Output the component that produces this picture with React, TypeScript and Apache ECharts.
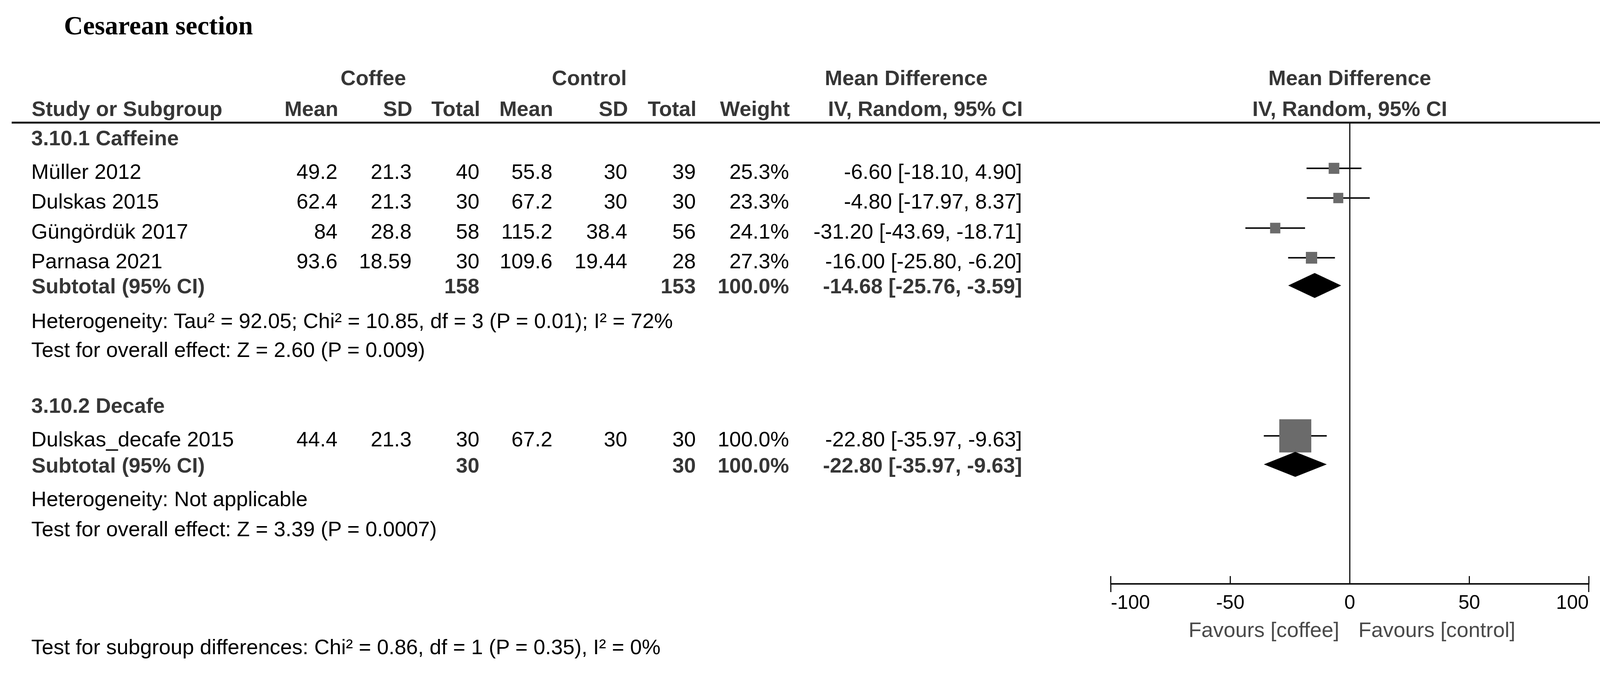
import React, { useEffect, useRef } from "react";
import * as echarts from "echarts";

// ---------------- data ----------------
const chartTitle = "Cesarean section";
const groupNames = ["Coffee", "Control"];

const subgroup1 = "3.10.1 Caffeine";
const studies1 = ["Müller 2012", "Dulskas 2015", "Güngördük 2017", "Parnasa 2021"];
const coffeeMean1 = [49.2, 62.4, 84, 93.6];
const coffeeSD1 = [21.3, 21.3, 28.8, 18.59];
const coffeeN1 = [40, 30, 58, 30];
const controlMean1 = [55.8, 67.2, 115.2, 109.6];
const controlSD1 = [30, 30, 38.4, 19.44];
const controlN1 = [39, 30, 56, 28];
const weight1 = [25.3, 23.3, 24.1, 27.3];
const md1 = [-6.6, -4.8, -31.2, -16.0];
const lo1 = [-18.1, -17.97, -43.69, -25.8];
const hi1 = [4.9, 8.37, -18.71, -6.2];
const subN1 = [158, 153];
const subEffect1 = [-14.68, -25.76, -3.59]; // md, lo, hi
const het1 = "Heterogeneity: Tau² = 92.05; Chi² = 10.85, df = 3 (P = 0.01); I² = 72%";
const test1 = "Test for overall effect: Z = 2.60 (P = 0.009)";

const subgroup2 = "3.10.2 Decafe";
const studies2 = ["Dulskas_decafe 2015"];
const coffeeMean2 = [44.4];
const coffeeSD2 = [21.3];
const coffeeN2 = [30];
const controlMean2 = [67.2];
const controlSD2 = [30];
const controlN2 = [30];
const weight2 = [100.0];
const md2 = [-22.8];
const lo2 = [-35.97];
const hi2 = [-9.63];
const subN2 = [30, 30];
const subEffect2 = [-22.8, -35.97, -9.63];
const het2 = "Heterogeneity: Not applicable";
const test2 = "Test for overall effect: Z = 3.39 (P = 0.0007)";

const subgroupTest = "Test for subgroup differences: Chi² = 0.86, df = 1 (P = 0.35), I² = 0%";
const axisMin = -100;
const axisMax = 100;
const axisStep = 50;
const favoursLeft = "Favours [coffee]";
const favoursRight = "Favours [control]";

// ---------------- layout (reference pixel space 4252 x 1736) ----------------
const W = 4252;
const H = 1736;
const FONT = "'Liberation Sans', Arial, sans-serif";
const SERIF = "'Liberation Serif', 'Times New Roman', serif";
const FS = 56;
const BOLD_COLOR = "#363636";
const colRight = [897, 1094, 1274, 1468, 1667, 1849, 2097, 2716];
const labelX = 83;
const GRID = { left: 2952, top: 315, width: 1270, height: 1180 };
const zeroRef = GRID.left + (GRID.width * (0 - axisMin)) / (axisMax - axisMin);

const Y = {
  title: 65,
  head1: 199,
  head2: 278,
  line: 314,
  g1Head: 353,
  g1Rows: [439, 515, 592, 668],
  g1Sub: 732,
  g1Het: 821,
  g1Test: 895,
  g2Head: 1038,
  g2Rows: [1124],
  g2Sub: 1191,
  g2Het: 1277,
  g2Test: 1354,
  bottom: 1656,
  favours: 1612,
};
const markerShift = -8;

const fmtCI = (m: number, l: number, h: number) =>
  `${m.toFixed(2)} [${l.toFixed(2)}, ${h.toFixed(2)}]`;

type TOpt = { bold?: boolean; color?: string; align?: string; size?: number; family?: string };

function buildGraphics(K: number) {
  const T = (text: string, x: number, y: number, o: TOpt = {}) => ({
    type: "text",
    x: x * K,
    y,
    silent: true,
    style: {
      text,
      fontSize: (o.size || FS) * K,
      fontFamily: o.family || FONT,
      fontWeight: o.bold ? "bold" : "normal",
      fill: o.color || (o.bold ? BOLD_COLOR : "#000"),
      align: o.align || "left",
      verticalAlign: "middle",
    },
  });

  const studyTexts = (
    names: string[], cm: number[], cs: number[], cn: number[], tm: number[], ts: number[], tn: number[],
    w: number[], m: number[], l: number[], h: number[], ys: number[]
  ) => {
    const out: any[] = [];
    names.forEach((n, i) => {
      const y = ys[i];
      out.push(T(n, labelX, y));
      const vals = [String(cm[i]), String(cs[i]), String(cn[i]), String(tm[i]), String(ts[i]), String(tn[i]), w[i].toFixed(1) + "%", fmtCI(m[i], l[i], h[i])];
      vals.forEach((v, k) => out.push(T(v, colRight[k], y, { align: "right" })));
    });
    return out;
  };

  const subtotalTexts = (n: number[], eff: number[], y: number) => [
    T("Subtotal (95% CI)", labelX + 1, y, { bold: true }),
    T(String(n[0]), colRight[2], y, { bold: true, align: "right" }),
    T(String(n[1]), colRight[5], y, { bold: true, align: "right" }),
    T((100).toFixed(1) + "%", colRight[6], y, { bold: true, align: "right" }),
    T(fmtCI(eff[0], eff[1], eff[2]), colRight[7], y, { bold: true, align: "right" }),
  ];

  const g: any[] = [];
  g.push(T(chartTitle, 170, Y.title, { bold: true, size: 70, family: SERIF, color: "#000" }));
  g.push(T(groupNames[0], 992, Y.head1, { bold: true, align: "center" }));
  g.push(T(groupNames[1], 1566, Y.head1, { bold: true, align: "center" }));
  g.push(T("Mean Difference", 2192, Y.head1, { bold: true }));
  g.push(T("Mean Difference", zeroRef, Y.head1, { bold: true, align: "center" }));
  g.push(T("Study or Subgroup", labelX + 1, Y.head2, { bold: true }));
  const h2 = ["Mean", "SD", "Total", "Mean", "SD", "Total", "Weight", "IV, Random, 95% CI"];
  h2.forEach((t, k) => g.push(T(t, colRight[k] + 2, Y.head2, { bold: true, align: "right" })));
  g.push(T("IV, Random, 95% CI", zeroRef, Y.head2, { bold: true, align: "center" }));
  g.push({
    type: "line",
    silent: true,
    shape: { x1: 31 * K, y1: Y.line, x2: W * K, y2: Y.line },
    style: { stroke: "#1a1a1a", lineWidth: 5 },
  });
  g.push(T(subgroup1, labelX, Y.g1Head, { bold: true }));
  g.push(...studyTexts(studies1, coffeeMean1, coffeeSD1, coffeeN1, controlMean1, controlSD1, controlN1, weight1, md1, lo1, hi1, Y.g1Rows));
  g.push(...subtotalTexts(subN1, subEffect1, Y.g1Sub));
  g.push(T(het1, labelX, Y.g1Het));
  g.push(T(test1, labelX, Y.g1Test));
  g.push(T(subgroup2, labelX, Y.g2Head, { bold: true }));
  g.push(...studyTexts(studies2, coffeeMean2, coffeeSD2, coffeeN2, controlMean2, controlSD2, controlN2, weight2, md2, lo2, hi2, Y.g2Rows));
  g.push(...subtotalTexts(subN2, subEffect2, Y.g2Sub));
  g.push(T(het2, labelX, Y.g2Het));
  g.push(T(test2, labelX, Y.g2Test));
  g.push(T(subgroupTest, labelX, Y.bottom));
  g.push(T(favoursLeft, zeroRef - 28, Y.favours, { align: "right", color: "#4a4a4a" }));
  g.push(T(favoursRight, zeroRef + 23, Y.favours, { align: "left", color: "#4a4a4a" }));
  return g;
}

export default function App() {
  const ref = useRef<HTMLDivElement>(null);
  const K = typeof window !== "undefined" ? Math.min(1, window.innerWidth / W) : 1;
  useEffect(() => {
    document.body.style.margin = "0";
    const chart = echarts.init(ref.current!, undefined, { renderer: "svg" });

    const studyData: any[] = [];
    md1.forEach((m, i) => studyData.push([m, lo1[i], hi1[i], Y.g1Rows[i] + markerShift, weight1[i]]));
    md2.forEach((m, i) => studyData.push([m, lo2[i], hi2[i], Y.g2Rows[i] + markerShift, weight2[i]]));
    const diamondData = [
      [subEffect1[0], subEffect1[1], subEffect1[2], Y.g1Sub - 1],
      [subEffect2[0], subEffect2[1], subEffect2[2], Y.g2Sub - 2],
    ];

    chart.setOption({
      animation: false,
      backgroundColor: "#fff",
      grid: { left: GRID.left * K, top: GRID.top, width: GRID.width * K, height: GRID.height },
      xAxis: {
        type: "value",
        min: axisMin,
        max: axisMax,
        interval: axisStep,
        axisLine: { show: true, lineStyle: { color: "#111", width: 4 } },
        axisTick: { show: true, inside: true, length: 20, lineStyle: { color: "#111", width: 3 } },
        splitLine: { show: false },
        axisLabel: {
          fontSize: 52 * K,
          fontFamily: FONT,
          color: "#000",
          margin: 22,
          alignMinLabel: "left",
          alignMaxLabel: "right",
          formatter: (v: number) => String(v),
        },
      },
      yAxis: { type: "value", min: GRID.top, max: GRID.top + GRID.height, inverse: true, show: false },
      graphic: buildGraphics(K),
      series: [
        {
          type: "custom",
          name: "studies",
          clip: false,
          silent: true,
          data: studyData,
          renderItem: (_p: any, api: any) => {
            const m = api.value(0), l = api.value(1), h = api.value(2), yv = api.value(3), w = api.value(4);
            const c = api.coord([m, yv]);
            const cl = api.coord([l, yv]);
            const ch = api.coord([h, yv]);
            const s = 85 * Math.pow(w / 100, 0.8);
            const sw = s * K;
            return {
              type: "group",
              children: [
                { type: "line", shape: { x1: cl[0], y1: c[1], x2: ch[0], y2: c[1] }, style: { stroke: "#111", lineWidth: 4 } },
                { type: "rect", shape: { x: c[0] - sw / 2, y: c[1] - s / 2, width: sw, height: s }, style: { fill: "#6b6b6b" } },
              ],
            };
          },
          markLine: {
            silent: true,
            symbol: "none",
            label: { show: false },
            lineStyle: { color: "#111", width: 3, type: "solid" },
            data: [{ xAxis: 0 }],
          },
        },
        {
          type: "custom",
          name: "subtotals",
          clip: false,
          silent: true,
          data: diamondData,
          renderItem: (_p: any, api: any) => {
            const m = api.value(0), l = api.value(1), h = api.value(2), yv = api.value(3);
            const c = api.coord([m, yv]);
            const cl = api.coord([l, yv]);
            const ch = api.coord([h, yv]);
            const hh = 32;
            return {
              type: "polygon",
              shape: { points: [[cl[0], c[1]], [c[0], c[1] - hh], [ch[0], c[1]], [c[0], c[1] + hh]] },
              style: { fill: "#000" },
            };
          },
        },
        {
          type: "custom",
          name: "axisEnds",
          clip: false,
          silent: true,
          data: [[axisMin], [axisMax]],
          renderItem: (_p: any, api: any) => {
            const c = api.coord([api.value(0), GRID.top + GRID.height]);
            return {
              type: "line",
              shape: { x1: c[0], y1: c[1], x2: c[0], y2: c[1] + 21 },
              style: { stroke: "#111", lineWidth: 3 },
            };
          },
        },
      ],
    });
    return () => chart.dispose();
  }, []);
  return <div ref={ref} style={{ width: Math.floor(W * K), height: H, background: "#fff" }} />;
}
